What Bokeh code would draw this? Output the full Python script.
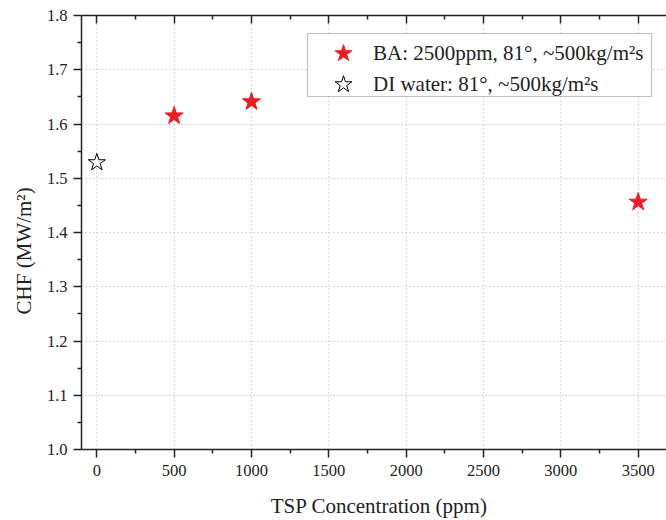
from bokeh.plotting import figure
from bokeh.models import (LinearAxis, Range1d, Legend, LegendItem, FixedTicker,
                          PrintfTickFormatter, BoxAnnotation)
from bokeh.embed import file_html
from bokeh.resources import INLINE

# Data
ba_x = [500, 1000, 3500]
ba_y = [1.615, 1.641, 1.456]
di_x = [0]
di_y = [1.529]
ba_label = "BA: 2500ppm, 81°, ~500kg/m²s"
di_label = "DI water: 81°, ~500kg/m²s"
x_title = "TSP Concentration (ppm)"
y_title = "CHF (MW/m²)"
x_ticks = [0, 500, 1000, 1500, 2000, 2500, 3000, 3500]
x_minor = [250, 750, 1250, 1750, 2250, 2750, 3250]
y_ticks = [1.0, 1.1, 1.2, 1.3, 1.4, 1.5, 1.6, 1.7, 1.8]
y_minor = [1.05, 1.15, 1.25, 1.35, 1.45, 1.55, 1.65, 1.75]

FONT = "Liberation Serif"
RED = "#ed1c24"
INK = "#222222"
NBSP = "\u00a0"

p = figure(width=666, height=520, output_backend="svg", toolbar_location=None,
           x_range=Range1d(-99, 3683), y_range=Range1d(1.0, 1.8),
           min_border_left=81, min_border_right=0, min_border_top=15,
           min_border_bottom=68)
p.outline_line_color = None
p.background_fill_color = "white"

r_ba = p.scatter(ba_x, ba_y, marker="star", size=19, fill_color=RED,
                 line_color=RED, line_width=1)
r_di = p.scatter(di_x, di_y, marker="star", size=18, fill_color="white",
                 line_color="black", line_width=1)

xt = FixedTicker(ticks=x_ticks, minor_ticks=x_minor)
yt = FixedTicker(ticks=y_ticks, minor_ticks=y_minor)

for ax in (p.xaxis[0], p.yaxis[0]):
    ax.axis_line_width = 1.5
    ax.axis_line_color = INK
    ax.major_tick_line_width = 1.5
    ax.minor_tick_line_width = 1.5
    ax.major_tick_line_color = INK
    ax.minor_tick_line_color = INK
    ax.major_tick_in = 0
    ax.major_tick_out = 8
    ax.minor_tick_in = 0
    ax.minor_tick_out = 4
    ax.major_label_text_font = FONT
    ax.major_label_text_font_size = "16.5px"
    ax.major_label_text_color = INK
    ax.axis_label_text_font = FONT
    ax.axis_label_text_font_size = "21px"
    ax.axis_label_text_font_style = "normal"
    ax.axis_label_text_color = INK

p.xaxis[0].ticker = xt
p.yaxis[0].ticker = yt
p.yaxis[0].formatter = PrintfTickFormatter(format="%.1f")
p.xaxis[0].axis_label = NBSP * 2 + x_title
p.yaxis[0].axis_label = y_title + NBSP * 7
p.xaxis[0].major_label_standoff = 7
p.yaxis[0].major_label_standoff = 6
p.xaxis[0].axis_label_standoff = 15
p.yaxis[0].axis_label_standoff = 8

top = LinearAxis(ticker=xt, axis_line_width=1.5, axis_line_color=INK,
                 major_tick_in=8, major_tick_out=0, minor_tick_in=4,
                 minor_tick_out=0, major_tick_line_width=1.5,
                 minor_tick_line_width=1.5, major_tick_line_color=INK,
                 minor_tick_line_color=INK,
                 major_label_text_color=None, major_label_standoff=0)
p.add_layout(top, "above")

for g in (p.xgrid[0], p.ygrid[0]):
    g.grid_line_color = "#b0b0b0"
    g.grid_line_dash = "1 3"
    g.grid_line_width = 1
p.xgrid[0].ticker = xt
p.ygrid[0].ticker = yt

# legend frame (screen units relative to the plot frame)
frame_box = BoxAnnotation(left=226, right=570, bottom=353, top=416,
                          left_units="screen", right_units="screen",
                          bottom_units="screen", top_units="screen",
                          fill_color="white", fill_alpha=1,
                          line_color="#333333", line_width=1.2)
p.add_layout(frame_box)


def make_legend(label, renderer, loc):
    lg = Legend(items=[LegendItem(label=label, renderers=[renderer])],
                location=loc)
    lg.label_text_font = FONT
    lg.label_text_font_size = "21px"
    lg.label_text_color = INK
    lg.border_line_color = None
    lg.background_fill_alpha = 0
    lg.padding = 0
    lg.margin = 0
    lg.spacing = 0
    lg.glyph_width = 44
    lg.glyph_height = 44
    lg.label_height = 44
    lg.label_standoff = 8
    return lg


p.add_layout(make_legend(ba_label, r_ba, (240, 374)), "center")
p.add_layout(make_legend(di_label, r_di, (240, 343)), "center")

open("out.html", "w").write(file_html(p, INLINE))
